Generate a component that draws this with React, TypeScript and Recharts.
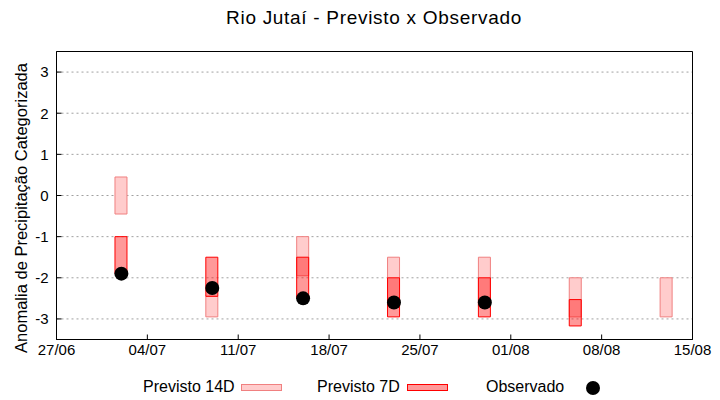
import React from 'react';
import { ComposedChart, Bar, Scatter, XAxis, YAxis, CartesianGrid, ReferenceArea } from 'recharts';

// days counted from 27/06
const forecastDays = [5, 12, 19, 26, 33, 40, 47];
const p14Low = [-0.45, -2.95, -1.95, -2.7, -2.7, -2.95, -2.95];
const p14High = [0.45, -2.45, -1.0, -1.5, -1.5, -2.0, -2.0];
const p7Low = [-1.9, -2.45, -2.5, -2.95, -2.95, -3.17, null];
const p7High = [-1.0, -1.5, -1.5, -2.0, -2.0, -2.53, null];
const observed = [-1.9, -2.25, -2.5, -2.6, -2.6, null, null];

const xTickDays = [0, 7, 14, 21, 28, 35, 42, 49];
const xTickLabels = ['27/06', '04/07', '11/07', '18/07', '25/07', '01/08', '08/08', '15/08'];
const yTicks = [-3, -2, -1, 0, 1, 2, 3];

const rows = forecastDays.map((d, i) => ({
  day: d,
  p14: [p14Low[i], p14High[i]],
  p7: p7Low[i] == null ? null : [p7Low[i], p7High[i]],
}));
const obsRows = forecastDays
  .map((d, i) => ({ day: d, obs: observed[i] }))
  .filter((r) => r.obs != null);

const font = '"Liberation Sans", Arial, sans-serif';
const tickFont = '"Liberation Sans Narrow", "Liberation Sans", Arial, sans-serif';
const black = { stroke: '#000', strokeWidth: 1 };

const fmtX = (v: number) => xTickLabels[xTickDays.indexOf(v)] ?? '';

const YLabel = () => (
  <text
    x={27}
    y={208}
    transform="rotate(-90 27 208)"
    textAnchor="middle"
    fontSize={16.5}
    fontFamily={font}
    fill="#000"
  >
    Anomalia de Precipitação Categorizada
  </text>
);

const Dot = (p: any) => <circle cx={p.cx} cy={p.cy} r={7} fill="#000" />;

export default function App() {
  return (
    <div style={{ position: 'absolute', left: 0, top: 0, width: 720, height: 400, background: '#fff' }}>
      <div
        style={{
          position: 'absolute',
          left: 0,
          width: 748,
          top: 7,
          textAlign: 'center',
          fontFamily: font,
          fontSize: 19,
          letterSpacing: 0.7,
          color: '#000',
        }}
      >
        Rio Jutaí - Previsto x Observado
      </div>
      <ComposedChart
        width={720}
        height={400}
        data={rows}
        barGap={-12}
        margin={{ top: 51.5, right: 27.5, bottom: 30.5, left: 0.5 }}
      >
        <CartesianGrid vertical={false} stroke="#a0a0a0" strokeDasharray="2 3" />
        <XAxis
          dataKey="day"
          type="number"
          domain={[0, 49]}
          ticks={xTickDays}
          tickFormatter={fmtX}
          height={30}
          tickSize={-5}
          tickMargin={10}
          axisLine={black}
          tickLine={black}
          tick={{ fill: '#000', fontSize: 15, fontFamily: tickFont }}
        />
        <XAxis
          xAxisId="top"
          orientation="top"
          type="number"
          domain={[0, 49]}
          ticks={xTickDays}
          tickFormatter={() => ''}
          height={0}
          tickSize={-5}
          axisLine={black}
          tickLine={black}
        />
        <YAxis
          type="number"
          domain={[-3.5, 3.5]}
          ticks={yTicks}
          width={56}
          tickSize={-5}
          tickMargin={13}
          axisLine={black}
          tickLine={black}
          tick={{ fill: '#000', fontSize: 15, fontFamily: tickFont }}
          label={<YLabel />}
        />
        <YAxis
          yAxisId="right"
          orientation="right"
          type="number"
          domain={[-3.5, 3.5]}
          ticks={yTicks}
          tickFormatter={() => ''}
          width={0}
          tickSize={-5}
          axisLine={black}
          tickLine={black}
        />
        <ReferenceArea
          x1={0}
          x2={49}
          y1={-3.5}
          y2={3.5}
          fill="none"
          stroke="#000"
          strokeWidth={1}
          fillOpacity={0}
          ifOverflow="visible"
        />
        <Bar dataKey="p14" barSize={12} fill="#ffcccc" stroke="#f08080" isAnimationActive={false} />
        <Bar
          dataKey="p7"
          barSize={12}
          fill="#ff0000"
          fillOpacity={0.4}
          stroke="#ff0000"
          isAnimationActive={false}
        />
        <Scatter data={obsRows} dataKey="obs" shape={Dot} isAnimationActive={false} />
      </ComposedChart>
      <svg
        style={{ position: 'absolute', left: 0, top: 0 }}
        width={720}
        height={400}
        fontFamily={font}
        fontSize={16}
      >
        <text x={143} y={392} fill="#000">Previsto 14D</text>
        <rect x={241.5} y={384.5} width={40} height={6} fill="#ffcccc" stroke="#f08080" />
        <text x={317} y={392} fill="#000">Previsto 7D</text>
        <rect x={407.5} y={384.5} width={40} height={6} fill="rgba(255,0,0,0.4)" stroke="#ff0000" />
        <text x={486} y={392} fill="#000">Observado</text>
        <circle cx={593} cy={388} r={7} fill="#000" />
      </svg>
    </div>
  );
}
